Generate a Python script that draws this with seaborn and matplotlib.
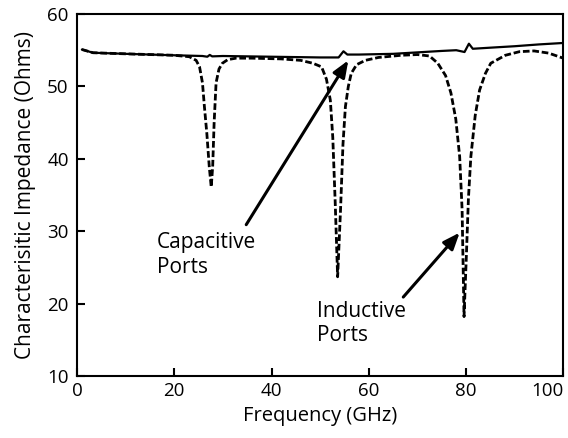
import matplotlib
matplotlib.use("Agg")
import matplotlib.pyplot as plt
import seaborn as sns
import pandas as pd

# solid trace (reference line)
solid_freq = [1, 3.3, 10, 20, 25.8, 26.8, 27.3, 27.8, 30, 40, 50, 53.8, 54.8, 55.6, 58, 65, 70, 75,
              78.0, 79.7, 80.6, 81.4, 85, 90, 95, 100]
solid_z = [55.1, 54.65, 54.5, 54.3, 54.2, 54.1, 54.35, 54.15, 54.2, 54.1, 54.0, 54.0, 54.85, 54.4,
           54.4, 54.5, 54.7, 54.9, 55.0, 54.75, 55.9, 55.2, 55.35, 55.55, 55.8, 56.0]

# dashed trace (with ports)
dash_freq = [1, 3.3, 10, 20, 23.1, 24.5, 25.2, 25.8, 26.2, 26.7, 27.2, 27.6, 27.9, 28.2, 28.6, 29.2,
             29.9, 31.0, 32.7, 36, 42, 46, 48.5, 50.3, 51.3, 52.1, 52.6, 53.1, 53.6, 54.2, 54.7,
             55.2, 55.8, 56.4, 57.5, 59.3, 62, 66.7, 70, 72.5, 74.2, 75.8, 76.9, 77.9, 78.7,
             79.2, 79.6, 80.1, 80.5, 81.0, 81.9, 82.8, 84.0, 85.1, 88.1, 91, 94, 97, 100]
dash_z = [55.1, 54.65, 54.5, 54.3, 54.1, 53.6, 52.7, 50.5, 47.2, 43.5, 38.9, 36.1, 38.9, 45.0, 50.5,
          52.4, 53.2, 53.7, 53.9, 53.9, 53.8, 53.6, 53.2, 52.7, 51.0, 48.1, 43.0, 34.0, 23.7, 33.0,
          42.0, 47.2, 50.0, 51.8, 53.0, 53.6, 54.0, 54.3, 54.4, 54.2, 53.2, 51.5, 49.1, 45.5,
          40.3, 33.0, 18.2, 27.0, 34.5, 40.3, 46.0, 49.5, 51.8, 53.2, 54.3, 54.8, 54.9, 54.6, 53.9]

x_ticks = [0, 20, 40, 60, 80, 100]
y_ticks = [10, 20, 30, 40, 50, 60]

solid_df = pd.DataFrame({"freq": solid_freq, "z": solid_z})
dash_df = pd.DataFrame({"freq": dash_freq, "z": dash_z})

sns.set_style("ticks")
plt.rcParams["font.family"] = ["Open Sans", "DejaVu Sans"]
plt.rcParams["text.color"] = "black"
plt.rcParams["axes.labelcolor"] = "black"

fig = plt.figure(figsize=(5.68, 4.38), dpi=100)
ax = fig.add_axes([0.1356, 0.1416, 0.856, 0.8264])

sns.lineplot(data=dash_df, x="freq", y="z", ax=ax, color="black", lw=2.0,
             linestyle=(0, (2.4, 1.0)), sort=False)
sns.lineplot(data=solid_df, x="freq", y="z", ax=ax, color="black", lw=1.6, sort=False)

ax.set_xlim(0, 100)
ax.set_ylim(10, 60)
ax.set_xticks(x_ticks)
ax.set_yticks(y_ticks)
ax.tick_params(direction="in", length=6, width=1.5, labelsize=13.5, colors="black")
ax.tick_params(axis="y", pad=6)
ax.tick_params(axis="x", pad=4)
ax.get_xticklabels()[-1].set_horizontalalignment("right")
for side in ["top", "right", "left", "bottom"]:
    ax.spines[side].set_visible(True)
    ax.spines[side].set_linewidth(1.5)
    ax.spines[side].set_color("black")

ax.set_xlabel("Frequency (GHz)", fontsize=14.5, labelpad=5)
ax.set_ylabel("Characterisitic Impedance (Ohms)", fontsize=15, labelpad=8)

arrow = dict(arrowstyle="-|>,head_length=1.0,head_width=0.4", color="black", lw=2.2,
             shrinkA=0, shrinkB=0)
ax.annotate("", xy=(55.8, 53.6), xytext=(34.8, 30.9), arrowprops=arrow)
ax.annotate("", xy=(78.7, 29.8), xytext=(67.1, 20.9), arrowprops=arrow)
ax.text(16.4, 26.7, "Capacitive\nPorts", fontsize=15, ha="left", va="center", linespacing=1.2)
ax.text(49.4, 17.2, "Inductive\nPorts", fontsize=15, ha="left", va="center", linespacing=1.2)

fig.savefig("out.png", dpi=100)
